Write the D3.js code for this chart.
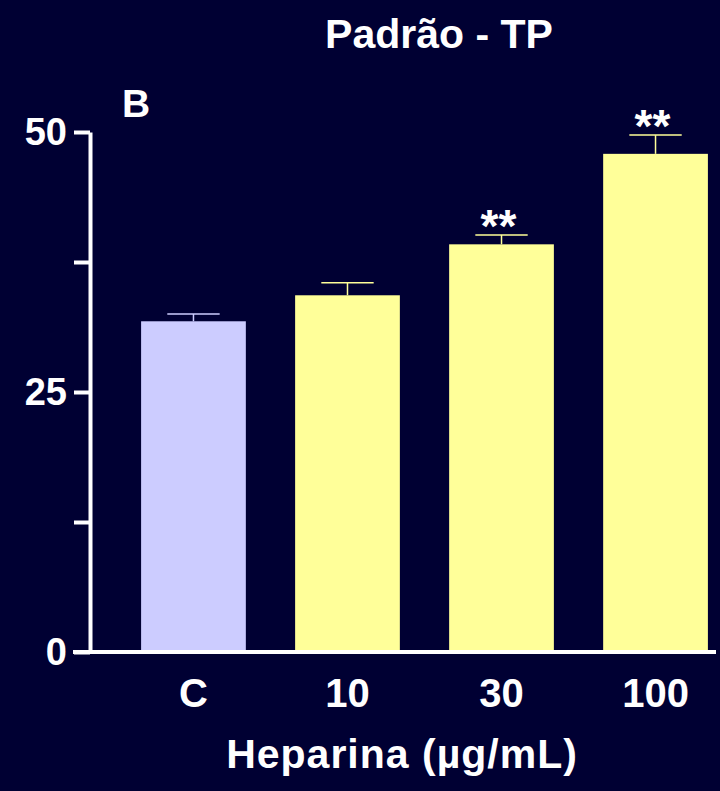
<!DOCTYPE html>
<html>
<head>
<meta charset="utf-8">
<script src="https://cdn.jsdelivr.net/npm/d3@7"></script>
<style>
  body { margin: 0; background: #000033; }
  svg { display: block; font-family: "Liberation Sans", Arial, sans-serif; font-weight: bold; }
</style>
</head>
<body>
<svg></svg>
<script>
// data
var categories = ["C", "10", "30", "100"];
var means = [31.8, 34.3, 39.2, 47.9];
var sem = [0.7, 1.2, 0.9, 1.8];
var signif = ["", "", "**", "**"];
var barColors = ["#CCCCFF", "#FFFF99", "#FFFF99", "#FFFF99"];
var yTicks = [0, 12.5, 25, 37.5, 50];
var yTickLabels = ["0", "", "25", "", "50"];

var svgWidth = 720, svgHeight = 791;
var svg = d3.select("svg")
  .attr("width", svgWidth)
  .attr("height", svgHeight);

svg.append("rect")
  .attr("width", svgWidth)
  .attr("height", svgHeight)
  .attr("fill", "#000033");

var y = d3.scaleLinear()
  .domain([0, 50])
  .range([652, 132]);

var x = d3.scaleBand()
  .domain(categories)
  .range([118, 731])
  .paddingInner(0.32)
  .paddingOuter(0.15);

var data = categories.map(function(c, i) {
  return { cat: c, mean: means[i], sem: sem[i], sig: signif[i], color: barColors[i] };
});

// bars
svg.selectAll(".bar")
  .data(data)
  .enter()
  .append("rect")
  .attr("class", "bar")
  .attr("x", d => x(d.cat))
  .attr("y", d => y(d.mean))
  .attr("width", x.bandwidth())
  .attr("height", d => y(0) - y(d.mean))
  .attr("fill", d => d.color);

// error bars (upper only)
var err = svg.selectAll(".err")
  .data(data)
  .enter()
  .append("g")
  .attr("class", "err");

err.append("line")
  .attr("x1", d => x(d.cat) + x.bandwidth() / 2)
  .attr("x2", d => x(d.cat) + x.bandwidth() / 2)
  .attr("y1", d => y(d.mean))
  .attr("y2", d => y(d.mean + d.sem))
  .attr("stroke", d => d.color)
  .attr("stroke-width", 1.5);

err.append("line")
  .attr("x1", d => x(d.cat) + x.bandwidth() / 4)
  .attr("x2", d => x(d.cat) + x.bandwidth() * 3 / 4)
  .attr("y1", d => y(d.mean + d.sem))
  .attr("y2", d => y(d.mean + d.sem))
  .attr("stroke", d => d.color)
  .attr("stroke-width", 1.5);

// significance stars
svg.selectAll(".sig")
  .data(data.filter(d => d.sig))
  .enter()
  .append("text")
  .attr("class", "sig")
  .attr("x", d => x(d.cat) + x.bandwidth() / 2 - 3)
  .attr("y", d => y(d.mean + d.sem) + 7)
  .attr("text-anchor", "middle")
  .attr("fill", "white")
  .style("font-size", "46px")
  .text(d => d.sig);

// y axis
var yAxis = svg.append("g")
  .attr("transform", "translate(90,0)")
  .call(d3.axisLeft(y)
    .tickValues(yTicks)
    .tickFormat((d, i) => yTickLabels[i])
    .tickSize(16)
    .tickPadding(7)
    .tickSizeOuter(0));
yAxis.select(".domain").attr("stroke", "white").attr("stroke-width", 4);
yAxis.selectAll(".tick line").attr("stroke", "white").attr("stroke-width", 4);
yAxis.selectAll(".tick text")
  .attr("fill", "white")
  .style("font-size", "38px")
  .style("font-family", "'Liberation Sans', Arial, sans-serif")
  .style("font-weight", "bold");

// x axis
var xAxis = svg.append("g")
  .attr("transform", "translate(0," + y(0) + ")")
  .call(d3.axisBottom(x).tickSize(0).tickPadding(27).tickSizeOuter(0));
xAxis.select(".domain")
  .attr("d", "M73,0H716")
  .attr("stroke", "white")
  .attr("stroke-width", 4);
xAxis.selectAll(".tick text")
  .attr("fill", "white")
  .style("font-size", "40px")
  .style("font-family", "'Liberation Sans', Arial, sans-serif")
  .style("font-weight", "bold");

// labels
svg.append("text")
  .attr("x", 439)
  .attr("y", 48)
  .attr("text-anchor", "middle")
  .attr("fill", "white")
  .style("font-size", "41px")
  .text("Padrão - TP");

svg.append("text")
  .attr("x", 122)
  .attr("y", 117)
  .attr("fill", "white")
  .style("font-size", "39px")
  .text("B");

svg.append("text")
  .attr("x", 402)
  .attr("y", 768)
  .attr("text-anchor", "middle")
  .attr("fill", "white")
  .style("font-size", "41px")
  .style("letter-spacing", "1px")
  .text("Heparina (µg/mL)");
</script>
</body>
</html>
